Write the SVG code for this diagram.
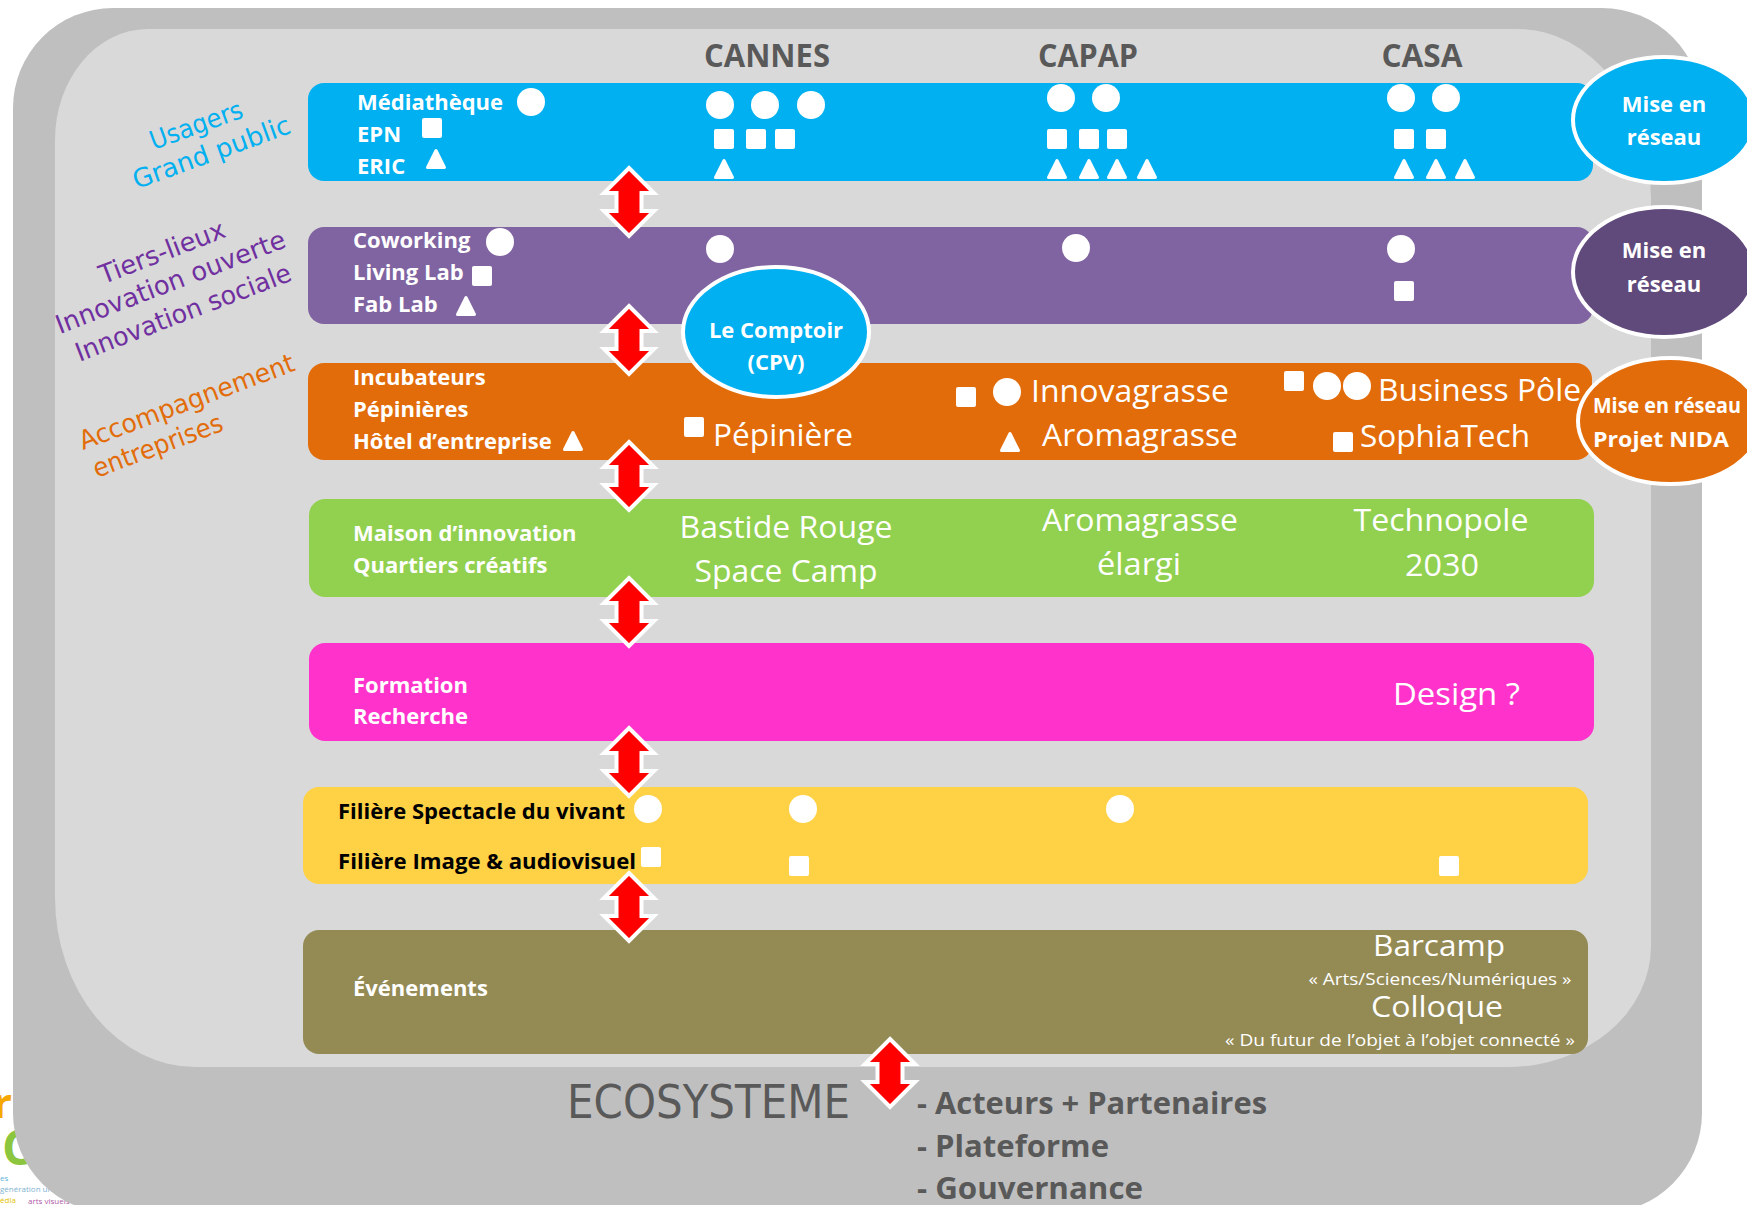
<svg xmlns="http://www.w3.org/2000/svg" width="1747" height="1205" viewBox="0 0 1747 1205">
<style>
.t{font-family:"Open Sans","Liberation Sans",sans-serif}
.hdr{font-weight:700;font-size:32px;fill:#595959;text-anchor:middle}
.lbl{font-weight:700;font-size:22px;fill:#fff}
.blk{fill:#000}
.big{font-size:31px;fill:#fff}
.mid{text-anchor:middle}
.hand{font-family:"DejaVu Sans",sans-serif;font-size:26px}
.sym{fill:#fff}
.tri{fill:#fff;stroke:#fff;stroke-width:3;stroke-linejoin:round}
.net{stroke:#fff;stroke-width:4}
.arrow{fill:#ff0000;stroke:#fff;stroke-width:4}
.eco{font-weight:700;font-size:30px;fill:#595959}
.tiny{font-size:8px}
</style>
<defs>
<circle id="c" r="14"/>
<rect id="s" x="-10" y="-10" width="20" height="20" rx="2"/>
<path id="tr" d="M0,-8.5 L8.5,8.5 L-8.5,8.5 Z"/>
<path id="arr" d="M0,-34 L25,-9 L12.5,-9 L12.5,9 L25,9 L0,34 L-25,9 L-12.5,9 L-12.5,-9 L-25,-9 Z"/>
</defs>
<rect width="1747" height="1205" fill="#fff"/>
<g id="logo-fragment">
<text class="t" x="-7" y="1118" font-size="42" font-weight="700" fill="#f5a800">r</text>
<text class="t" x="2" y="1165" font-size="48" font-weight="700" fill="#8cc63f">C</text>
<text class="t tiny" x="0" y="1181" fill="#5ab4dc">es</text>
<text class="t tiny" x="40" y="1181" fill="#c8dca0">li</text>
<text class="t tiny" x="0" y="1192" fill="#7fb3d0">génération urb</text>
<text class="t tiny" x="0" y="1203" fill="#e5c100">édia</text>
<text class="t tiny" x="28" y="1204" fill="#b05aa8">arts visuels</text>
</g>
<g id="frame">
<rect x="13" y="8" width="1689" height="1205" rx="100" fill="#bfbfbf"/>
<path d="M147,29 H1518 A133,170 0 0 1 1651,199 V946 A143,121 0 0 1 1508,1067 H195 A140,170 0 0 1 55,897 V140 A93,111 0 0 1 147,29 Z" fill="#d9d9d9"/>
</g>
<g id="headers" class="t">
<text class="hdr" x="767" y="67" textLength="126" lengthAdjust="spacingAndGlyphs">CANNES</text>
<text class="hdr" x="1088" y="67" textLength="100" lengthAdjust="spacingAndGlyphs">CAPAP</text>
<text class="hdr" x="1422" y="67" textLength="81" lengthAdjust="spacingAndGlyphs">CASA</text>
</g>
<g id="side-labels" class="hand">
<g id="lbl-usagers" transform="translate(196,125) rotate(-20)" fill="#00b0f0">
<text x="0" y="9" text-anchor="middle" textLength="97" lengthAdjust="spacingAndGlyphs">Usagers</text>
<text x="5" y="40" text-anchor="middle" textLength="166" lengthAdjust="spacingAndGlyphs">Grand public</text>
</g>
<g id="lbl-tiers" transform="translate(162,252) rotate(-21)" fill="#7030a0">
<text x="0" y="9" text-anchor="middle" textLength="133" lengthAdjust="spacingAndGlyphs">Tiers-lieux</text>
<text x="-3" y="40" text-anchor="middle" textLength="244" lengthAdjust="spacingAndGlyphs">Innovation ouverte</text>
<text x="-2" y="73" text-anchor="middle" textLength="229" lengthAdjust="spacingAndGlyphs">Innovation sociale</text>
</g>
<g id="lbl-accomp" transform="translate(83,450) rotate(-20.5)" fill="#e36c0a">
<text x="0" y="0" textLength="228" lengthAdjust="spacingAndGlyphs">Accompagnement</text>
<text x="3" y="31" textLength="137" lengthAdjust="spacingAndGlyphs">entreprises</text>
</g>
</g>
<g id="band-usagers">
<rect x="308" y="83" width="1285" height="98" rx="16" fill="#00b0f0"/>
<text class="t lbl" x="357" y="110">Médiathèque</text>
<text class="t lbl" x="357" y="142">EPN</text>
<text class="t lbl" x="357" y="174">ERIC</text>
<g class="sym">
<use href="#c" x="531" y="102"/><use href="#c" x="720" y="105"/><use href="#c" x="765" y="105"/><use href="#c" x="811" y="105"/>
<use href="#c" x="1061" y="98"/><use href="#c" x="1106" y="98"/><use href="#c" x="1401" y="98"/><use href="#c" x="1446" y="98"/>
<use href="#s" x="432" y="128"/><use href="#s" x="724" y="139"/><use href="#s" x="756" y="139"/><use href="#s" x="785" y="139"/>
<use href="#s" x="1057" y="139"/><use href="#s" x="1089" y="139"/><use href="#s" x="1117" y="139"/><use href="#s" x="1404" y="139"/><use href="#s" x="1436" y="139"/>
</g>
<g class="tri">
<use href="#tr" x="436" y="159"/><use href="#tr" x="724" y="169"/>
<use href="#tr" x="1057" y="169"/><use href="#tr" x="1089" y="169"/><use href="#tr" x="1117" y="169"/><use href="#tr" x="1147" y="169"/>
<use href="#tr" x="1404" y="169"/><use href="#tr" x="1436" y="169"/><use href="#tr" x="1465" y="169"/>
</g>
</g>
<g id="band-tiers">
<rect x="308" y="227" width="1285" height="97" rx="16" fill="#8064a2"/>
<text class="t lbl" x="353" y="248">Coworking</text>
<text class="t lbl" x="353" y="280">Living Lab</text>
<text class="t lbl" x="353" y="312">Fab Lab</text>
<g class="sym">
<use href="#c" x="500" y="242"/><use href="#c" x="720" y="249"/><use href="#c" x="1076" y="248"/><use href="#c" x="1401" y="249"/>
<use href="#s" x="482" y="276"/><use href="#s" x="1404" y="291"/>
</g>
<g class="tri"><use href="#tr" x="466" y="306"/></g>
</g>
<g id="band-accomp">
<rect x="308" y="363" width="1284" height="97" rx="16" fill="#e36c0a"/>
<text class="t lbl" x="353" y="385">Incubateurs</text>
<text class="t lbl" x="353" y="417">Pépinières</text>
<text class="t lbl" x="353" y="449">Hôtel d’entreprise</text>
<text class="t big" x="713" y="446" textLength="140" lengthAdjust="spacingAndGlyphs">Pépinière</text>
<text class="t big" x="1031" y="402" textLength="198" lengthAdjust="spacingAndGlyphs">Innovagrasse</text>
<text class="t big" x="1042" y="446" textLength="196" lengthAdjust="spacingAndGlyphs">Aromagrasse</text>
<text class="t big" x="1378" y="401" textLength="203" lengthAdjust="spacingAndGlyphs">Business Pôle</text>
<text class="t big" x="1360" y="447" textLength="170" lengthAdjust="spacingAndGlyphs">SophiaTech</text>
<g class="sym">
<use href="#s" x="694" y="427"/><use href="#s" x="966" y="397"/><use href="#s" x="1294" y="381"/><use href="#s" x="1343" y="442"/>
<use href="#c" x="1007" y="392"/><use href="#c" x="1327" y="386"/><use href="#c" x="1357" y="386"/>
</g>
<g class="tri"><use href="#tr" x="573" y="441"/><use href="#tr" x="1010" y="442"/></g>
</g>
<g id="band-maison">
<rect x="309" y="499" width="1285" height="98" rx="16" fill="#92d050"/>
<text class="t lbl" x="353" y="541">Maison d’innovation</text>
<text class="t lbl" x="353" y="573">Quartiers créatifs</text>
<text class="t big mid" x="786" y="538" textLength="213" lengthAdjust="spacingAndGlyphs">Bastide Rouge</text>
<text class="t big mid" x="786" y="582" textLength="183" lengthAdjust="spacingAndGlyphs">Space Camp</text>
<text class="t big mid" x="1140" y="531" textLength="196" lengthAdjust="spacingAndGlyphs">Aromagrasse</text>
<text class="t big mid" x="1139" y="575" textLength="84" lengthAdjust="spacingAndGlyphs">élargi</text>
<text class="t big mid" x="1441" y="531" textLength="175" lengthAdjust="spacingAndGlyphs">Technopole</text>
<text class="t big mid" x="1442" y="576" textLength="74" lengthAdjust="spacingAndGlyphs">2030</text>
</g>
<g id="band-formation">
<rect x="309" y="643" width="1285" height="98" rx="16" fill="#ff33cc"/>
<text class="t lbl" x="353" y="693">Formation</text>
<text class="t lbl" x="353" y="724">Recherche</text>
<text class="t big" x="1393" y="705" textLength="127" lengthAdjust="spacingAndGlyphs">Design ?</text>
</g>
<g id="band-filiere">
<rect x="303" y="787" width="1285" height="97" rx="16" fill="#ffd145"/>
<text class="t lbl blk" x="338" y="819" textLength="287" lengthAdjust="spacingAndGlyphs">Filière Spectacle du vivant</text>
<text class="t lbl blk" x="338" y="869" textLength="298" lengthAdjust="spacingAndGlyphs">Filière Image &amp; audiovisuel</text>
<g class="sym">
<use href="#c" x="648" y="809"/><use href="#c" x="803" y="809"/><use href="#c" x="1120" y="809"/>
<use href="#s" x="651" y="857"/><use href="#s" x="799" y="866"/><use href="#s" x="1449" y="866"/>
</g>
</g>
<g id="band-evenements">
<rect x="303" y="930" width="1285" height="124" rx="16" fill="#948a54"/>
<text class="t lbl" x="353" y="996">Événements</text>
<text class="t mid" x="1439" y="956" font-size="30" fill="#fff" textLength="132" lengthAdjust="spacingAndGlyphs">Barcamp</text>
<text class="t mid" x="1440" y="985" font-size="17" fill="#fff" textLength="263" lengthAdjust="spacingAndGlyphs">« Arts/Sciences/Numériques »</text>
<text class="t mid" x="1437" y="1017" font-size="30" fill="#fff" textLength="132" lengthAdjust="spacingAndGlyphs">Colloque</text>
<text class="t mid" x="1400" y="1046" font-size="17" fill="#fff" textLength="350" lengthAdjust="spacingAndGlyphs">« Du futur de l’objet à l’objet connecté »</text>
</g>
<g id="connectors" class="arrow">
<use href="#arr" x="629" y="202"/>
<use href="#arr" x="629" y="340"/>
<use href="#arr" x="629" y="476"/>
<use href="#arr" x="629" y="612"/>
<use href="#arr" x="629" y="762"/>
<use href="#arr" x="629" y="907"/>
<use href="#arr" x="890" y="1073"/>
</g>
<g id="node-comptoir">
<ellipse class="net" cx="776" cy="332" rx="93" ry="65" fill="#00b0f0"/>
<text class="t lbl mid" x="776" y="338" font-size="23">Le Comptoir</text>
<text class="t lbl mid" x="776" y="370" font-size="23">(CPV)</text>
</g>
<g id="node-reseau-1">
<ellipse class="net" cx="1664" cy="120" rx="91" ry="63" fill="#00b0f0"/>
<text class="t lbl mid" x="1664" y="112" font-size="24">Mise en</text>
<text class="t lbl mid" x="1664" y="145" font-size="24">réseau</text>
</g>
<g id="node-reseau-2">
<ellipse class="net" cx="1664" cy="272" rx="91" ry="65" fill="#604a7b"/>
<text class="t lbl mid" x="1664" y="258" font-size="24">Mise en</text>
<text class="t lbl mid" x="1664" y="292" font-size="24">réseau</text>
</g>
<g id="node-reseau-nida">
<ellipse class="net" cx="1670" cy="421" rx="92" ry="63" fill="#e36c0a"/>
<text class="t lbl" x="1593" y="413" font-size="20" textLength="148" lengthAdjust="spacingAndGlyphs">Mise en réseau</text>
<text class="t lbl" x="1593" y="447" font-size="20" textLength="136" lengthAdjust="spacingAndGlyphs">Projet NIDA</text>
</g>
<g id="node-ecosysteme">
<text x="567" y="1118" font-family="DejaVu Sans, sans-serif" font-size="46" fill="#595959" textLength="283" lengthAdjust="spacingAndGlyphs">ECOSYSTEME</text>
<text class="t eco" x="917" y="1114" textLength="350" lengthAdjust="spacingAndGlyphs">- Acteurs + Partenaires</text>
<text class="t eco" x="917" y="1157" textLength="192" lengthAdjust="spacingAndGlyphs">- Plateforme</text>
<text class="t eco" x="917" y="1199" textLength="226" lengthAdjust="spacingAndGlyphs">- Gouvernance</text>
</g>
</svg>
